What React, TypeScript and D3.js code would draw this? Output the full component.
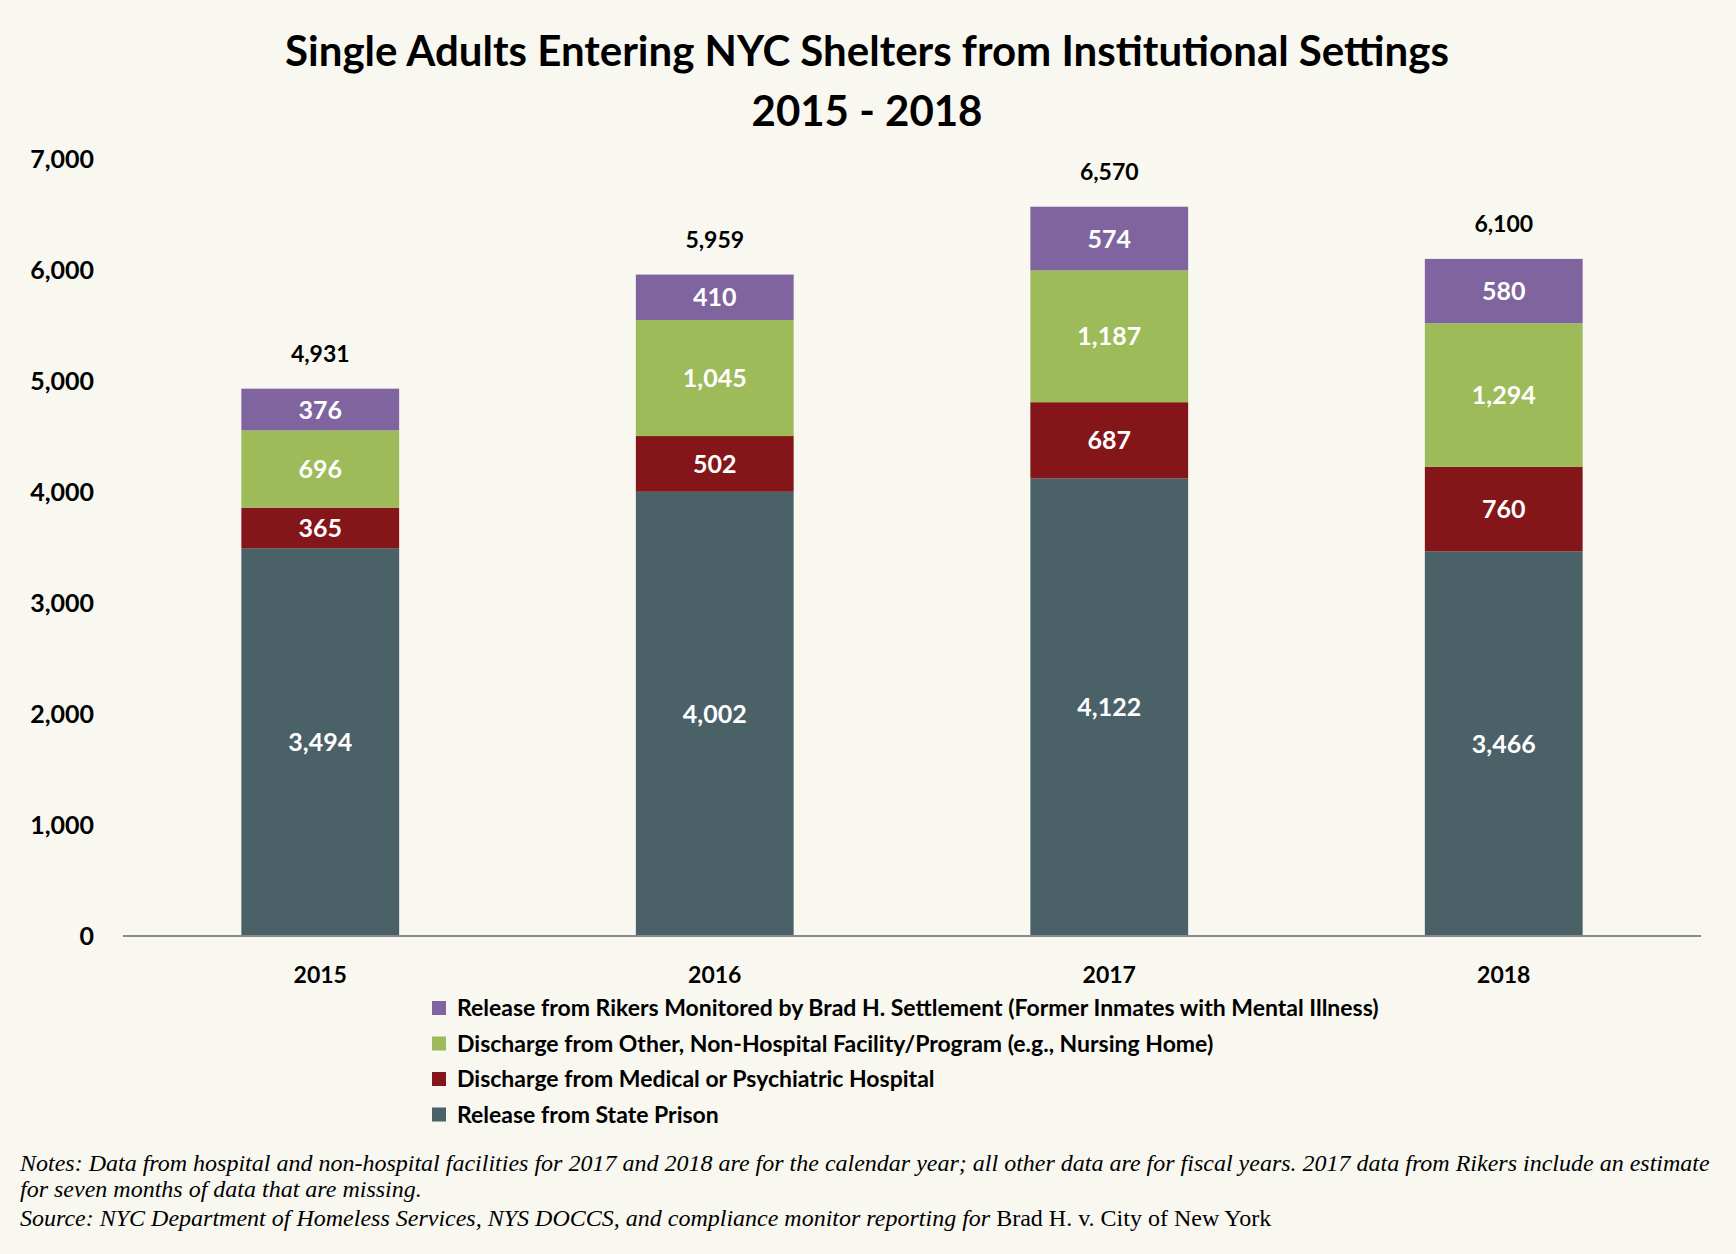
import * as d3 from "d3";

const years = ["2015", "2016", "2017", "2018"];
const statePrison = [3494, 4002, 4122, 3466];
const hospital = [365, 502, 687, 760];
const nonHospital = [696, 1045, 1187, 1294];
const rikers = [376, 410, 574, 580];
const yTicks = [0, 1000, 2000, 3000, 4000, 5000, 6000, 7000];

const seriesNames = [
  "Release from State Prison",
  "Discharge from Medical or Psychiatric Hospital",
  "Discharge from Other, Non-Hospital Facility/Program (e.g., Nursing Home)",
  "Release from Rikers Monitored by Brad H. Settlement (Former Inmates with Mental Illness)",
];
const colors = ["#4b6168", "#84161a", "#9dbb59", "#8064a0"];

const W = 1736;
const H = 1254;
const font = "Lato, 'Open Sans', sans-serif";

const App = () => {
  const rows = years.map((y, i) => ({
    year: y,
    s0: statePrison[i],
    s1: hospital[i],
    s2: nonHospital[i],
    s3: rikers[i],
  }));
  const keys = ["s0", "s1", "s2", "s3"];
  const stacked = d3.stack<any>().keys(keys)(rows);
  const totals = rows.map((r) => r.s0 + r.s1 + r.s2 + r.s3);

  const x = d3.scaleBand().domain(years).range([123, 1701]).paddingInner(0.6).paddingOuter(0.3);
  const y = d3.scaleLinear().domain([0, 7000]).range([936, 159]);
  const fmt = d3.format(",");

  // legend is listed top to bottom in reverse stack order
  const legendOrder = [3, 2, 1, 0];

  return (
    <svg
      width={W}
      height={H}
      style={{ position: "absolute", left: 0, top: 0, display: "block" }}
      fontFamily={font}
    >
      <rect width={W} height={H} fill="#f8f7f0" />
      <text x={W / 2 - 1} y={66} textAnchor="middle" fontSize={42} fontWeight={700} fill="#000">
        Single Adults Entering NYC Shelters from Institutional Settings
      </text>
      <text x={W / 2 - 1} y={126} textAnchor="middle" fontSize={42} fontWeight={700} fill="#000">
        2015 - 2018
      </text>

      {yTicks.map((t) => (
        <text key={t} x={94} y={y(t)} dy="0.36em" textAnchor="end" fontSize={25} fontWeight={700}>
          {fmt(t)}
        </text>
      ))}

      {stacked.map((s, si) => (
        <g key={si} fill={colors[si]}>
          {s.map((d: any, i) => (
            <rect
              key={i}
              x={x(years[i])}
              y={y(d[1])}
              width={x.bandwidth()}
              height={y(d[0]) - y(d[1])}
            />
          ))}
        </g>
      ))}

      {stacked.map((s, si) =>
        s.map((d: any, i) => (
          <text
            key={`${si}-${i}`}
            x={(x(years[i]) as number) + x.bandwidth() / 2}
            y={(y(d[0]) + y(d[1])) / 2}
            dy="0.36em"
            textAnchor="middle"
            fontSize={25}
            fontWeight={700}
            fill="#fff"
          >
            {fmt(d[1] - d[0])}
          </text>
        ))
      )}

      {totals.map((t, i) => (
        <text
          key={i}
          x={(x(years[i]) as number) + x.bandwidth() / 2}
          y={y(t) - 35}
          dy="0.36em"
          textAnchor="middle"
          fontSize={23}
          fontWeight={700}
        >
          {fmt(t)}
        </text>
      ))}

      <line x1={123} x2={1701} y1={y(0)} y2={y(0)} stroke="#8a8a8a" strokeWidth={2} />

      {years.map((yr) => (
        <text
          key={yr}
          x={(x(yr) as number) + x.bandwidth() / 2}
          y={975}
          dy="0.36em"
          textAnchor="middle"
          fontSize={23}
          fontWeight={700}
        >
          {yr}
        </text>
      ))}

      {legendOrder.map((si, k) => (
        <g key={si} transform={`translate(432, ${1008 + k * 35.5})`}>
          <rect x={0} y={-7} width={14} height={14} fill={colors[si]} />
          <text x={25} y={0} dy="0.36em" fontSize={23} fontWeight={700}>
            {seriesNames[si]}
          </text>
        </g>
      ))}

      <g fontFamily="'Liberation Serif', serif" fontStyle="italic" fontSize={24}>
        <text x={20} y={1171}>
          Notes: Data from hospital and non-hospital facilities for 2017 and 2018 are for the calendar year; all other data are for fiscal years. 2017 data from Rikers include an estimate
        </text>
        <text x={20} y={1197}>for seven months of data that are missing.</text>
        <text x={20} y={1226}>
          Source: NYC Department of Homeless Services, NYS DOCCS, and compliance monitor reporting for{" "}
          <tspan fontStyle="normal">Brad H. v. City of New York</tspan>
        </text>
      </g>
    </svg>
  );
};

export default App;
